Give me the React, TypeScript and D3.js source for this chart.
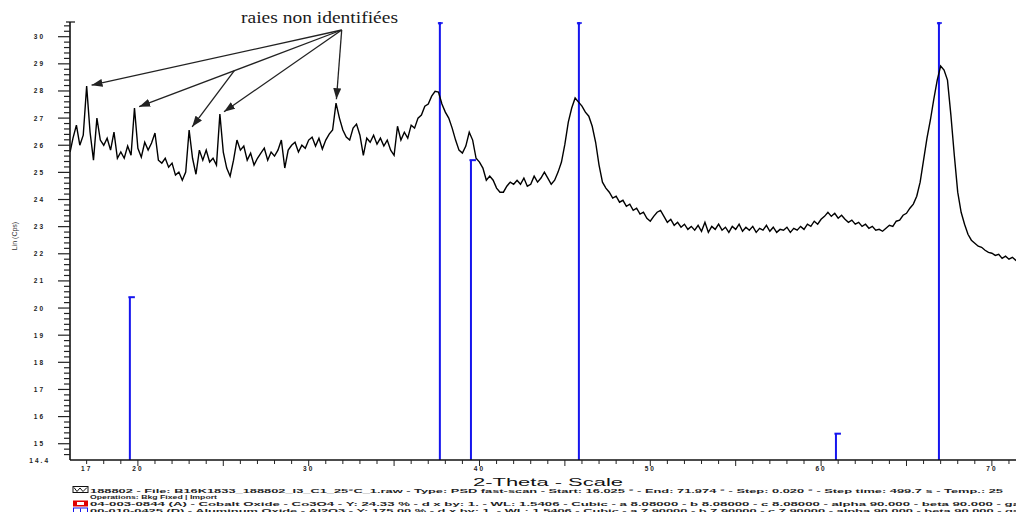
import React, { useRef, useEffect } from 'react';
import * as d3 from 'd3';

// measured scan (2-Theta, Lin (Cps) axis units)
const scanAngle = [
    16.03, 16.2, 16.4, 16.6, 16.8, 17.0, 17.2, 17.4, 17.6, 17.8,
    18.0, 18.2, 18.4, 18.6, 18.8, 19.0, 19.2, 19.4, 19.6, 19.8,
    20.0, 20.2, 20.4, 20.6, 20.8, 21.0, 21.2, 21.4, 21.6, 21.8,
    22.0, 22.2, 22.4, 22.6, 22.8, 23.0, 23.2, 23.4, 23.6, 23.8,
    24.0, 24.2, 24.4, 24.6, 24.8, 25.0, 25.2, 25.4, 25.6, 25.8,
    26.0, 26.2, 26.4, 26.6, 26.8, 27.0, 27.2, 27.4, 27.6, 27.8,
    28.0, 28.2, 28.4, 28.6, 28.8, 29.0, 29.2, 29.4, 29.6, 29.8,
    30.0, 30.2, 30.4, 30.6, 30.8, 31.0, 31.2, 31.4, 31.6, 31.8,
    32.0, 32.2, 32.4, 32.6, 32.8, 33.0, 33.2, 33.4, 33.6, 33.8,
    34.0, 34.2, 34.4, 34.6, 34.8, 35.0, 35.2, 35.4, 35.6, 35.8,
    36.0, 36.2, 36.4, 36.6, 36.8, 37.0, 37.2, 37.4, 37.6, 37.8,
    38.0, 38.2, 38.4, 38.6, 38.8, 39.0, 39.2, 39.4, 39.6, 39.8,
    40.0, 40.2, 40.4, 40.6, 40.8, 41.0, 41.2, 41.4, 41.6, 41.8,
    42.0, 42.2, 42.4, 42.6, 42.8, 43.0, 43.2, 43.4, 43.6, 43.8,
    44.0, 44.2, 44.4, 44.6, 44.8, 45.0, 45.2, 45.4, 45.6, 45.8,
    46.0, 46.2, 46.4, 46.6, 46.8, 47.0, 47.2, 47.4, 47.6, 47.8,
    48.0, 48.2, 48.4, 48.6, 48.8, 49.0, 49.2, 49.4, 49.6, 49.8,
    50.0, 50.2, 50.4, 50.6, 50.8, 51.0, 51.2, 51.4, 51.6, 51.8,
    52.0, 52.2, 52.4, 52.6, 52.8, 53.0, 53.2, 53.4, 53.6, 53.8,
    54.0, 54.2, 54.4, 54.6, 54.8, 55.0, 55.2, 55.4, 55.6, 55.8,
    56.0, 56.2, 56.4, 56.6, 56.8, 57.0, 57.2, 57.4, 57.6, 57.8,
    58.0, 58.2, 58.4, 58.6, 58.8, 59.0, 59.2, 59.4, 59.6, 59.8,
    60.0, 60.2, 60.4, 60.6, 60.8, 61.0, 61.2, 61.4, 61.6, 61.8,
    62.0, 62.2, 62.4, 62.6, 62.8, 63.0, 63.2, 63.4, 63.6, 63.8,
    64.0, 64.2, 64.4, 64.6, 64.8, 65.0, 65.2, 65.4, 65.6, 65.8,
    66.0, 66.2, 66.4, 66.6, 66.8, 67.0, 67.2, 67.4, 67.6, 67.8,
    68.0, 68.2, 68.4, 68.6, 68.8, 69.0, 69.2, 69.4, 69.6, 69.8,
    70.0, 70.2, 70.4, 70.6, 70.8, 71.0, 71.2, 71.4, 71.6, 71.8,
    71.97,
];

const scanIntensity = [
    25.75, 26.26, 26.74, 26.0, 26.37, 28.18, 26.48, 25.45, 27.0, 26.19,
    26.0, 26.26, 25.82, 26.48, 25.52, 25.75, 25.52, 25.97, 25.63, 27.37,
    25.89, 25.56, 26.11, 25.82, 26.08, 26.45, 25.45, 25.34, 25.52, 25.19,
    25.34, 24.9, 25.01, 24.71, 25.01, 26.56, 25.52, 24.93, 25.82, 25.45,
    25.82, 25.38, 25.52, 25.27, 27.15, 25.75, 25.16, 24.86, 25.45, 26.19,
    25.82, 25.97, 25.45, 25.71, 25.27, 25.52, 25.71, 25.89, 25.45, 25.75,
    25.6, 25.82, 26.19, 25.16, 25.82, 26.0, 26.11, 25.75, 26.0, 25.89,
    26.19, 26.3, 25.97, 26.26, 25.86, 26.19, 26.41, 26.56, 27.55, 27.0,
    26.56, 26.3, 26.19, 26.63, 26.78, 26.37, 25.63, 26.26, 26.11, 26.37,
    26.04, 26.26, 25.97, 26.19, 25.82, 25.63, 26.7, 26.19, 26.48, 26.26,
    26.74, 26.63, 27.0, 27.11, 27.44, 27.52, 27.81, 27.99, 27.96, 27.52,
    27.22, 27.0, 26.63, 26.19, 25.82, 25.71, 25.97, 26.48, 26.19, 25.52,
    25.38, 25.16, 24.71, 24.86, 24.71, 24.42, 24.27, 24.27, 24.49, 24.64,
    24.56, 24.71, 24.56, 24.79, 24.49, 24.56, 24.86, 24.64, 24.79, 25.01,
    24.79, 24.56, 24.71, 25.01, 25.38, 26.04, 26.85, 27.37, 27.74, 27.59,
    27.44, 27.22, 27.07, 26.7, 26.11, 25.27, 24.64, 24.42, 24.27, 24.05,
    24.12, 23.9, 23.97, 23.75, 23.83, 23.6, 23.68, 23.46, 23.53, 23.31,
    23.2, 23.38, 23.53, 23.6, 23.38, 23.16, 23.27, 23.05, 23.16, 22.98,
    23.09, 22.9, 23.01, 22.87, 23.05, 22.83, 23.16, 22.79, 23.01, 22.9,
    23.09, 22.87, 22.98, 22.79, 23.01, 22.9, 23.09, 22.83, 22.98, 22.87,
    23.01, 22.79, 22.94, 22.87, 23.05, 22.83, 22.98, 22.79, 22.9, 22.87,
    22.98, 22.79, 22.94, 22.87, 23.01, 22.9, 23.09, 23.01, 23.2, 23.09,
    23.27, 23.38, 23.53, 23.38, 23.49, 23.31, 23.42, 23.27, 23.16, 23.24,
    23.09, 23.16, 23.01, 23.09, 22.94, 23.01, 22.87, 22.9, 22.83, 22.94,
    23.05, 23.01, 23.2, 23.24, 23.42, 23.49, 23.68, 23.83, 24.12, 24.64,
    25.45, 26.26, 26.93, 27.7, 28.4, 28.92, 28.77, 28.4, 27.11, 25.63,
    24.27, 23.53, 23.09, 22.72, 22.5, 22.39, 22.28, 22.24, 22.13, 22.05,
    22.02, 21.94, 21.98, 21.83, 21.91, 21.8, 21.87, 21.76, 21.83, 21.8,
    21.8,
];

// reference pattern sticks (00-010-0425)
const stickAngle = [19.53, 37.68, 39.5, 45.82, 60.87, 66.9];
const stickIntensity = [20.4, 31.5, 25.45, 31.5, 15.37, 31.5];

// spikes pointed to by the annotation
const unidentifiedAngle = [17.0, 19.8, 23.0, 24.8, 31.6];
const unidentifiedIntensity = [28.18, 27.37, 26.56, 27.15, 27.55];

const yTickLabels = [30, 29, 28, 27, 26, 25, 24, 23, 22, 21, 20, 19, 18, 17, 16, 15, 14.4];
const xTickLabels = [17, 20, 30, 40, 50, 60, 70];

const legendLines = [
    '188802 - File: B16K1833_188802_I3_C1_25°C_1.raw - Type: PSD fast-scan - Start: 16.025 ° - End: 71.974 ° - Step: 0.020 ° - Step time: 499.7 s - Temp.: 25',
    'Operations: Bkg Fixed | Import',
    '04-003-0844 (A) - Cobalt Oxide - Co3O4 - Y: 24.33 % - d x by: 1. - WL: 1.5406 - Cubic - a 8.08000 - b 8.08000 - c 8.08000 - alpha 90.000 - beta 90.000 - ga',
    '00-010-0425 (D) - Aluminum Oxide - Al2O3 - Y: 175.00 % - d x by: 1. - WL: 1.5406 - Cubic - a 7.90000 - b 7.90000 - c 7.90000 - alpha 90.000 - beta 90.000 - ga',
];

const App: React.FC = () => {
    const svgRef = useRef<SVGSVGElement | null>(null);
    const width = 1016;
    const height = 512;

    useEffect(() => {
        if (!svgRef.current) return;
        const svg = d3.select(svgRef.current);
        svg.selectAll('*').remove();

        const left = 70;
        const top = 22;
        const bottom = 460;

        const x = d3.scaleLinear().domain([16.025, 71.974]).range([left, 1025.6]);
        const y = d3.scaleLinear().domain([14.4, 30]).range([bottom, 36.7]);

        const axisFont = 'Liberation Sans, Arial, sans-serif';

        const defs = svg.append('defs');
        defs.append('clipPath')
            .attr('id', 'plot-clip')
            .append('rect')
            .attr('x', left)
            .attr('y', top)
            .attr('width', width - left)
            .attr('height', bottom - top);
        defs.append('marker')
            .attr('id', 'arrow-head')
            .attr('markerUnits', 'userSpaceOnUse')
            .attr('markerWidth', 11)
            .attr('markerHeight', 8)
            .attr('refX', 11)
            .attr('refY', 4)
            .attr('orient', 'auto')
            .append('path')
            .attr('d', 'M0,0 L11,4 L0,8 z')
            .attr('fill', '#222');

        const plot = svg.append('g').attr('clip-path', 'url(#plot-clip)');

        // blue reference sticks
        const sticks = stickAngle.map((a, i) => ({ a, v: stickIntensity[i] }));
        plot.selectAll('.stick')
            .data(sticks)
            .enter()
            .append('line')
            .attr('x1', (d) => x(d.a))
            .attr('x2', (d) => x(d.a))
            .attr('y1', bottom)
            .attr('y2', (d) => Math.max(top, y(d.v)))
            .attr('stroke', '#1515ee')
            .attr('stroke-width', 2);

        sticks.forEach((d) => {
            const sx = x(d.a);
            const sy = y(d.v);
            if (sy <= top) {
                plot.append('line')
                    .attr('x1', sx - 2)
                    .attr('x2', sx + 3)
                    .attr('y1', top + 1)
                    .attr('y2', top + 1)
                    .attr('stroke', '#1515ee')
                    .attr('stroke-width', 1.5);
                plot.append('circle')
                    .attr('cx', sx)
                    .attr('cy', top + 1.5)
                    .attr('r', 1.6)
                    .attr('fill', '#1515ee');
            } else {
                plot.append('line')
                    .attr('x1', sx - 1.5)
                    .attr('x2', sx + 5)
                    .attr('y1', sy)
                    .attr('y2', sy)
                    .attr('stroke', '#1515ee')
                    .attr('stroke-width', 2);
            }
        });

        // scan line
        const line = d3
            .line<number>()
            .x((d, i) => x(scanAngle[i]))
            .y((d) => y(d));
        plot.append('path')
            .datum(scanIntensity)
            .attr('d', line)
            .attr('fill', 'none')
            .attr('stroke', '#000')
            .attr('stroke-width', 1.4)
            .attr('stroke-linejoin', 'miter');

        // axes
        svg.append('line')
            .attr('x1', left)
            .attr('x2', left)
            .attr('y1', top)
            .attr('y2', bottom)
            .attr('stroke', '#111')
            .attr('stroke-width', 1.6);
        svg.append('line')
            .attr('x1', left - 4)
            .attr('x2', left + 5)
            .attr('y1', top)
            .attr('y2', top)
            .attr('stroke', '#111')
            .attr('stroke-width', 1.2);
        svg.append('line')
            .attr('x1', left)
            .attr('x2', width)
            .attr('y1', bottom)
            .attr('y2', bottom)
            .attr('stroke', '#111')
            .attr('stroke-width', 1.6);

        const yMinor = d3.range(73, 153).map((k) => k / 5);
        svg.selectAll('.ytick')
            .data(yMinor)
            .enter()
            .append('line')
            .attr('x1', (d) => (Math.abs(d - Math.round(d)) < 1e-6 ? left - 12 : left - 6))
            .attr('x2', left)
            .attr('y1', (d) => y(d))
            .attr('y2', (d) => y(d))
            .attr('stroke', '#222')
            .attr('stroke-width', 1.2);

        svg.selectAll('.ylabel')
            .data(yTickLabels)
            .enter()
            .append('text')
            .attr('x', (d) => (d === 14.4 ? 50 : 45))
            .attr('y', (d) => y(d) + 2.5)
            .attr('text-anchor', 'end')
            .attr('font-family', axisFont)
            .attr('font-size', 6.5)
            .attr('font-weight', 'bold')
            .attr('letter-spacing', 2)
            .attr('fill', '#222')
            .text((d) => String(d));

        const xMinor = d3.range(17, 72);
        svg.selectAll('.xtick')
            .data(xMinor)
            .enter()
            .append('line')
            .attr('x1', (d) => x(d))
            .attr('x2', (d) => x(d))
            .attr('y1', bottom)
            .attr('y2', (d) => (d % 5 === 0 ? bottom + 6 : bottom + 4))
            .attr('stroke', '#222')
            .attr('stroke-width', 1);

        svg.selectAll('.xlabel')
            .data(xTickLabels)
            .enter()
            .append('text')
            .attr('x', (d) => x(d))
            .attr('y', 471)
            .attr('text-anchor', 'middle')
            .attr('font-family', axisFont)
            .attr('font-size', 6.5)
            .attr('font-weight', 'bold')
            .attr('letter-spacing', 2)
            .attr('fill', '#222')
            .text((d) => String(d));

        // axis titles
        svg.append('text')
            .attr('transform', 'translate(17,236) rotate(-90)')
            .attr('text-anchor', 'middle')
            .attr('font-family', axisFont)
            .attr('font-size', 7)
            .attr('fill', '#333')
            .text('Lin (Cps)');

        svg.append('text')
            .attr('x', 473)
            .attr('y', 485.5)
            .attr('font-family', axisFont)
            .attr('font-size', 11)
            .attr('textLength', 150)
            .attr('lengthAdjust', 'spacingAndGlyphs')
            .attr('fill', '#111')
            .text('2-Theta - Scale');

        // annotation
        svg.append('text')
            .attr('x', 241)
            .attr('y', 23)
            .attr('font-family', 'Liberation Serif, Times New Roman, serif')
            .attr('font-size', 16)
            .attr('textLength', 157)
            .attr('lengthAdjust', 'spacingAndGlyphs')
            .attr('fill', '#1a1a1a')
            .text('raies non identifiées');

        const origin: [number, number] = [341.7, 30];
        const spikes = unidentifiedAngle.map((a, i) => [x(a), y(unidentifiedIntensity[i])] as [number, number]);
        const tipOf = (from: [number, number], to: [number, number]) => {
            const dx = to[0] - from[0];
            const dy = to[1] - from[1];
            const len = Math.hypot(dx, dy);
            return [to[0] - (dx / len) * 5, to[1] - (dy / len) * 4] as [number, number];
        };
        const arrows: [[number, number], [number, number]][] = [];
        arrows.push([origin, tipOf(origin, spikes[0])]);
        const tip2 = tipOf(origin, spikes[1]);
        arrows.push([origin, tip2]);
        const branch: [number, number] = [
            origin[0] + (tip2[0] - origin[0]) * 0.53,
            origin[1] + (tip2[1] - origin[1]) * 0.53,
        ];
        arrows.push([branch, tipOf(branch, spikes[2])]);
        arrows.push([origin, tipOf(origin, spikes[3])]);
        arrows.push([origin, tipOf(origin, spikes[4])]);

        svg.selectAll('.arrow')
            .data(arrows)
            .enter()
            .append('line')
            .attr('x1', (d) => d[0][0])
            .attr('y1', (d) => d[0][1])
            .attr('x2', (d) => d[1][0])
            .attr('y2', (d) => d[1][1])
            .attr('stroke', '#222')
            .attr('stroke-width', 1.3)
            .attr('marker-end', 'url(#arrow-head)');

        // legend
        const legendY = [492.5, 498.5, 505.5, 513];
        const legendLen = [913, 127, 930, 930];
        legendLines.forEach((t, i) => {
            svg.append('text')
                .attr('x', 90)
                .attr('y', legendY[i])
                .attr('font-family', axisFont)
                .attr('font-size', 6)
                .attr('font-weight', 'bold')
                .attr('textLength', legendLen[i])
                .attr('lengthAdjust', 'spacingAndGlyphs')
                .attr('fill', '#222')
                .text(t);
        });

        // legend icons
        svg.append('rect')
            .attr('x', 73).attr('y', 486.5).attr('width', 15).attr('height', 6)
            .attr('fill', '#fff').attr('stroke', '#111').attr('stroke-width', 1);
        svg.append('path')
            .attr('d', 'M74,487.5 L77,491.5 L80,488 L83,491.5 L87,487.5')
            .attr('fill', 'none').attr('stroke', '#111').attr('stroke-width', 1);
        svg.append('rect')
            .attr('x', 73).attr('y', 500.5).attr('width', 15).attr('height', 6)
            .attr('fill', '#e00000');
        svg.append('rect')
            .attr('x', 77).attr('y', 502).attr('width', 7).attr('height', 3)
            .attr('fill', '#fff');
        svg.append('rect')
            .attr('x', 73.5).attr('y', 508).attr('width', 14).attr('height', 6)
            .attr('fill', '#fff').attr('stroke', '#1515ee').attr('stroke-width', 1);
        svg.append('line')
            .attr('x1', 80.5).attr('x2', 80.5).attr('y1', 508.5).attr('y2', 512)
            .attr('stroke', '#1515ee').attr('stroke-width', 1);
    }, []);

    return (
        <div style={{ position: 'absolute', left: 0, top: 0, width, height, background: '#fff' }}>
            <svg ref={svgRef} width={width} height={height} viewBox={`0 0 ${width} ${height}`} />
        </div>
    );
};

export default App;
